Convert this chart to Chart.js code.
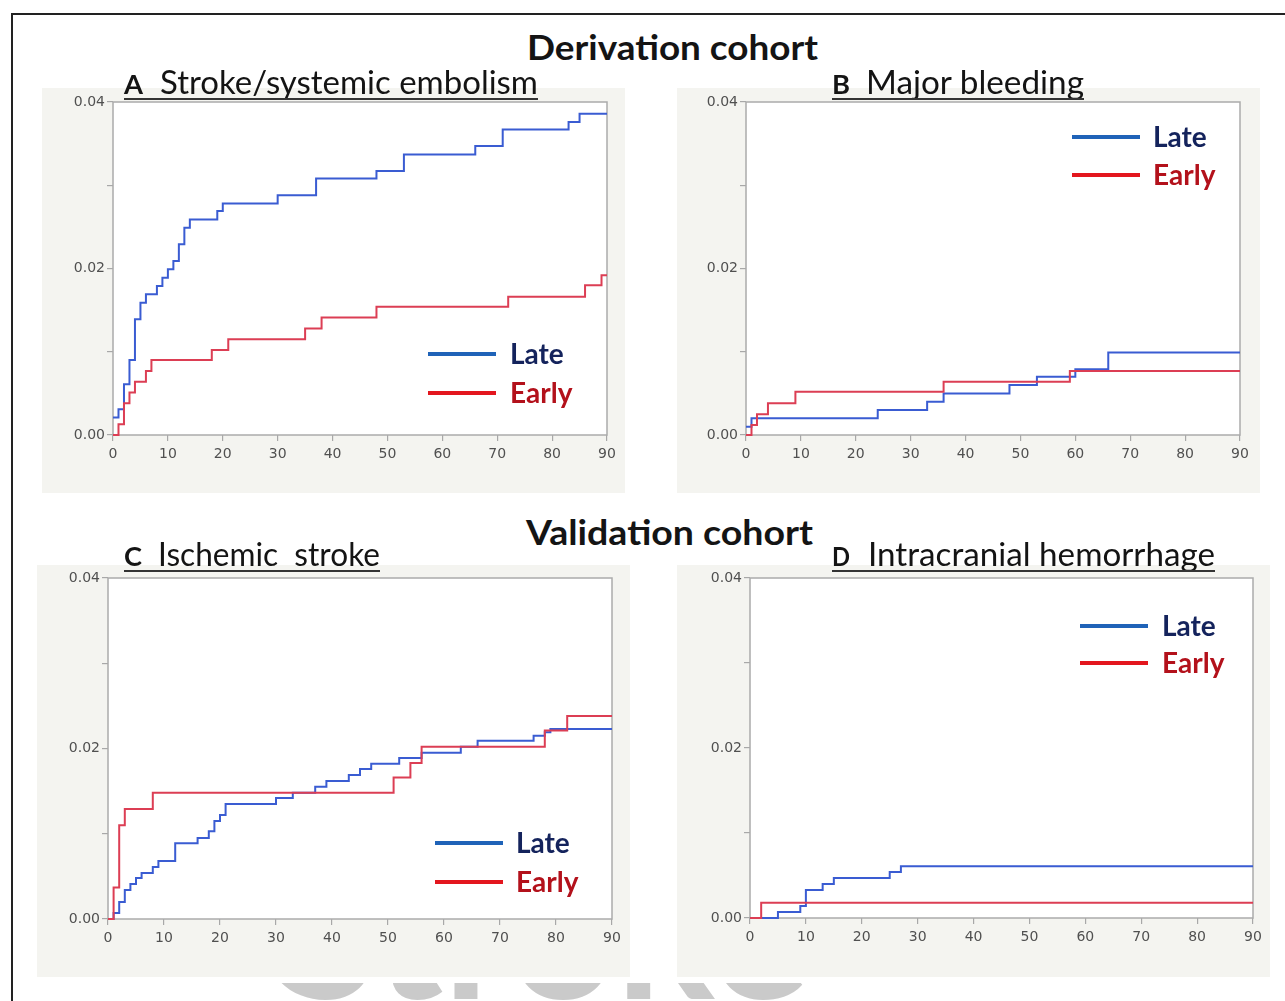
<!DOCTYPE html>
<html>
<head>
<meta charset="utf-8">
<script src="https://cdn.jsdelivr.net/npm/chart.js@4.4.1/dist/chart.umd.min.js"></script>
<style>
html, body { margin: 0; padding: 0; background: #fff; }
body { width: 1285px; height: 1001px; position: relative; overflow: hidden; font-family: Lato, "Open Sans", sans-serif; }
#frame { position: absolute; left: 11px; top: 13px; width: 1300px; height: 1000px; border-left: 2px solid #222; border-top: 2px solid #222; }
.panel { position: absolute; background: #f4f4f0; }
.txt { position: absolute; white-space: nowrap; line-height: 1; transform-origin: 0 0; color: #141414; }
.ul { position: absolute; height: 0; border-top: 2px solid #333; }
#wm { position: absolute; left: 0; top: 983px; width: 1285px; height: 18px; overflow: hidden; }
</style>
</head>
<body>
<div id="frame"></div>

<div class="panel" style="left:42px;top:88px;width:583px;height:405px;"><canvas id="chartA"></canvas></div>
<div class="panel" style="left:677px;top:88px;width:583px;height:405px;"><canvas id="chartB"></canvas></div>
<div class="panel" style="left:37px;top:565px;width:593px;height:412px;"><canvas id="chartC"></canvas></div>
<div class="panel" style="left:677px;top:565px;width:593px;height:412px;"><canvas id="chartD"></canvas></div>

<div id="wm"><span class="txt" data-w="532" data-b="16" style="left:277px;font-weight:700;font-size:180px;color:#cacaca;">Stroke</span></div>

<span class="txt" data-w="291" data-b="60" style="left:527px;font-weight:700;font-size:34px;">Derivation cohort</span>
<span class="txt" data-w="287" data-b="545" style="left:526px;font-weight:700;font-size:34px;">Validation cohort</span>

<span class="txt" data-w="19" data-b="94" style="left:124px;font-weight:700;font-size:27px;">A</span>
<span class="txt" data-w="378" data-b="94" style="left:160px;font-size:32px;">Stroke/systemic embolism</span>
<div class="ul" style="left:124px;top:98px;width:414px;"></div>

<span class="txt" data-w="18" data-b="94" style="left:832px;font-weight:700;font-size:27px;">B</span>
<span class="txt" data-w="218" data-b="94" style="left:866px;font-size:32px;">Major bleeding</span>
<div class="ul" style="left:832px;top:98px;width:252px;"></div>

<span class="txt" data-w="18" data-b="566" style="left:124px;font-weight:700;font-size:27px;">C</span>
<span class="txt" data-w="222" data-b="566" style="left:158px;font-size:32px;">Ischemic&nbsp; stroke</span>
<div class="ul" style="left:124px;top:570px;width:256px;"></div>

<span class="txt" data-w="18" data-b="566" style="left:832px;font-weight:700;font-size:27px;">D</span>
<span class="txt" data-w="347" data-b="566" style="left:868px;font-size:32px;">Intracranial hemorrhage</span>
<div class="ul" style="left:832px;top:570px;width:383px;"></div>

<script>
// ---- data (cumulative incidence vs days) ----
const seriesNames = ['Late', 'Early'];
const xTickValues = [0, 10, 20, 30, 40, 50, 60, 70, 80, 90];
const yTickValues = [0, 0.01, 0.02, 0.03, 0.04];
const yTickLabels = ['0.00', '', '0.02', '', '0.04'];

// A  Stroke/systemic embolism
const aLateDays  = [0, 1, 2, 3, 4, 5, 6, 8, 9, 10, 11, 12, 13, 14, 19, 20, 30, 37, 48, 53, 66, 71, 83, 85, 90];
const aLateRisk  = [0.0021, 0.0031, 0.0061, 0.0090, 0.0139, 0.0159, 0.0169, 0.0179, 0.0189, 0.0199, 0.0209, 0.0229, 0.0249, 0.0259, 0.0269, 0.0278, 0.0288, 0.0308, 0.0317, 0.0337, 0.0347, 0.0367, 0.0376, 0.0386, 0.0386];
const aEarlyDays = [0, 1, 2, 3, 4, 6, 7, 18, 21, 35, 38, 48, 72, 86, 89, 90];
const aEarlyRisk = [0, 0.0013, 0.0038, 0.0051, 0.0064, 0.0077, 0.0090, 0.0102, 0.0115, 0.0128, 0.0141, 0.0154, 0.0166, 0.0180, 0.0192, 0.0192];

// B  Major bleeding
const bLateDays  = [0, 1, 24, 33, 36, 48, 53, 60, 66, 90];
const bLateRisk  = [0.0010, 0.0020, 0.0030, 0.0040, 0.0050, 0.0060, 0.0070, 0.0079, 0.0099, 0.0099];
const bEarlyDays = [0, 1, 2, 4, 9, 36, 59, 90];
const bEarlyRisk = [0, 0.0012, 0.0025, 0.0038, 0.0052, 0.0064, 0.0077, 0.0077];

// C  Ischemic stroke
const cLateDays  = [0, 1, 2, 3, 4, 5, 6, 8, 9, 12, 16, 18, 19, 20, 21, 30, 33, 37, 39, 43, 45, 47, 52, 56, 63, 66, 76, 78, 79, 90];
const cLateRisk  = [0, 0.0007, 0.0020, 0.0034, 0.0041, 0.0048, 0.0054, 0.0061, 0.0068, 0.0089, 0.0095, 0.0103, 0.0115, 0.0122, 0.0135, 0.0142, 0.0148, 0.0155, 0.0162, 0.0169, 0.0176, 0.0182, 0.0189, 0.0195, 0.0202, 0.0209, 0.0215, 0.0219, 0.0223, 0.0223];
const cEarlyDays = [0, 1, 2, 3, 8, 51, 54, 56, 78, 82, 90];
const cEarlyRisk = [0, 0.0037, 0.0110, 0.0129, 0.0148, 0.0166, 0.0183, 0.0202, 0.0221, 0.0238, 0.0238];

// D  Intracranial hemorrhage
const dLateDays  = [0, 5, 9, 10, 13, 15, 25, 27, 90];
const dLateRisk  = [0, 0.0007, 0.0014, 0.0033, 0.0040, 0.0047, 0.0054, 0.0061, 0.0061];
const dEarlyDays = [0, 2, 90];
const dEarlyRisk = [0, 0.0018, 0.0018];

// ---- text placement (HTML titles) ----
document.querySelectorAll('.txt').forEach(el => {
    const fs = parseFloat(el.style.fontSize);
    el.style.top = (parseFloat(el.dataset.b) - 0.887 * fs) + 'px';
    const w = el.getBoundingClientRect().width;
    el.style.transform = 'scaleX(' + (parseFloat(el.dataset.w) / w) + ')';
});

const lineBlue = 'rgb(58, 92, 210)';
const lineRed = 'rgb(220, 62, 84)';

const framePlugin = {
    id: 'frameBox',
    beforeDatasetsDraw(chart) {
        const a = chart.chartArea;
        const ctx = chart.ctx;
        ctx.save();
        ctx.fillStyle = '#ffffff';
        ctx.fillRect(a.left, a.top, a.right - a.left, a.bottom - a.top);
        ctx.strokeStyle = '#ababab';
        ctx.lineWidth = 1.5;
        ctx.strokeRect(a.left, a.top, a.right - a.left, a.bottom - a.top);
        ctx.restore();
    }
};

const legendPlugin = {
    id: 'inLegend',
    afterDraw(chart, args, opts) {
        const ctx = chart.ctx;
        const lineCols = ['#1f63b8', '#e3161e'];
        const textCols = ['#14235c', '#b3111b'];
        ctx.save();
        ctx.font = 'bold 28px Lato, sans-serif';
        ctx.textBaseline = 'middle';
        seriesNames.forEach((name, i) => {
            const y = opts.y[i];
            ctx.strokeStyle = lineCols[i];
            ctx.lineWidth = 4;
            ctx.beginPath();
            ctx.moveTo(opts.x1, y);
            ctx.lineTo(opts.x2, y);
            ctx.stroke();
            ctx.fillStyle = textCols[i];
            ctx.fillText(name, opts.tx, y + 1);
        });
        ctx.restore();
    }
};

function pts(days, risk) {
    return days.map((d, i) => ({ x: d, y: risk[i] }));
}

function makePanel(id, lateDays, lateRisk, earlyDays, earlyRisk, pad, leg) {
    const ctx = document.getElementById(id).getContext('2d');
    return new Chart(ctx, {
        type: 'line',
        data: {
            datasets: [
                { label: seriesNames[1], data: pts(earlyDays, earlyRisk), borderColor: lineRed, borderWidth: 2, stepped: 'before', pointRadius: 0, clip: false },
                { label: seriesNames[0], data: pts(lateDays, lateRisk), borderColor: lineBlue, borderWidth: 2, stepped: 'before', pointRadius: 0, clip: false }
            ]
        },
        options: {
            responsive: true,
            maintainAspectRatio: false,
            animation: false,
            layout: { padding: { left: 0, right: pad.r, top: pad.t, bottom: pad.b - 30 } },
            plugins: {
                legend: { display: false },
                tooltip: { enabled: false },
                inLegend: leg
            },
            scales: {
                x: {
                    type: 'linear',
                    min: 0,
                    max: 90,
                    afterBuildTicks: s => { s.ticks = xTickValues.map(v => ({ value: v })); },
                    afterFit: s => { s.height = 30; },
                    grid: { drawOnChartArea: false, drawTicks: true, tickLength: 6, color: '#a8a8a8', lineWidth: 1.2 },
                    border: { display: false },
                    ticks: { color: '#505050', padding: 5, maxRotation: 0, font: { family: "'DejaVu Sans'", size: 14 } }
                },
                y: {
                    type: 'linear',
                    min: 0,
                    max: 0.04,
                    afterBuildTicks: s => { s.ticks = yTickValues.map(v => ({ value: v })); },
                    afterFit: s => { s.width = pad.l; },
                    grid: { drawOnChartArea: false, drawTicks: true, tickLength: 6, color: '#a8a8a8', lineWidth: 1.2 },
                    border: { display: false },
                    ticks: {
                        color: '#505050',
                        padding: 2,
                        font: { family: "'DejaVu Sans'", size: 14 },
                        callback: (v, i) => yTickLabels[i]
                    }
                }
            }
        },
        plugins: [framePlugin, legendPlugin]
    });
}

makePanel('chartA', aLateDays, aLateRisk, aEarlyDays, aEarlyRisk,
    { l: 71, r: 18, t: 14, b: 58 }, { x1: 386, x2: 454, tx: 468, y: [266, 305] });
makePanel('chartB', bLateDays, bLateRisk, bEarlyDays, bEarlyRisk,
    { l: 69, r: 20, t: 14, b: 58 }, { x1: 395, x2: 463, tx: 476, y: [49, 87] });
makePanel('chartC', cLateDays, cLateRisk, cEarlyDays, cEarlyRisk,
    { l: 71, r: 18, t: 13, b: 58 }, { x1: 398, x2: 466, tx: 479, y: [278, 317] });
makePanel('chartD', dLateDays, dLateRisk, dEarlyDays, dEarlyRisk,
    { l: 73, r: 17, t: 13, b: 59 }, { x1: 403, x2: 471, tx: 485, y: [61, 98] });
</script>
</body>
</html>
